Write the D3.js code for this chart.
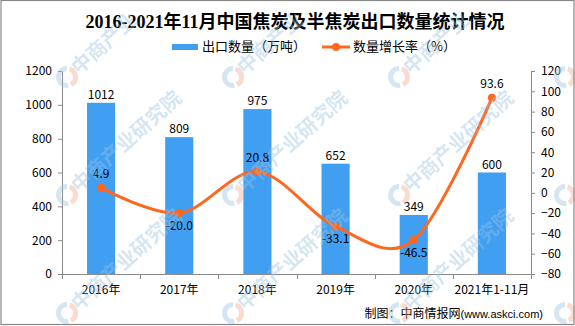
<!DOCTYPE html>
<html>
<head>
<meta charset="utf-8">
<script src="https://cdn.jsdelivr.net/npm/d3@7/dist/d3.min.js"></script>
<style>
  html, body { margin: 0; padding: 0; background: #fff; }
  svg { display: block; }
</style>
</head>
<body>
<svg id="chart" width="575" height="326"></svg>
<script>
// ---- data ----
const categories = ["2016年", "2017年", "2018年", "2019年", "2020年", "2021年1-11月"];
const exportVolume = [1012, 809, 975, 652, 349, 600];        // 出口数量（万吨）
const growthRate = [4.9, -20.0, 20.8, -33.1, -46.5, 93.6];  // 数量增长率（%）
const leftTicks = [0, 200, 400, 600, 800, 1000, 1200];
const rightTicks = [-80, -60, -40, -20, 0, 20, 40, 60, 80, 100, 120];
const titleText = "2016-2021年11月中国焦炭及半焦炭出口数量统计情况";
const legendBar = "出口数量（万吨）";
const legendLine = "数量增长率（%）";
const sourceText = "制图：中商情报网";
const sourceUrl = "(www.askci.com)";
const watermarkText = "中商产业研究院";

// ---- style ----
const barColor = "#419FF2";
const lineColor = "#FF661E";
const axisColor = "#8a8a8a";
const cjk = "'Noto Sans CJK SC', 'DejaVu Sans', sans-serif";

const svg = d3.select("#chart");
const W = 575, H = 326;
const plot = { left: 62, right: 531, top: 71, bottom: 274 };

const x = d3.scaleBand().domain(categories).range([plot.left, plot.right])
  .paddingInner(0.64).paddingOuter(0.32);
const xb = d3.scaleBand().domain(categories).range([plot.left, plot.right]);
const yL = d3.scaleLinear().domain([0, 1200]).range([plot.bottom, plot.top]);
const yR = d3.scaleLinear().domain([-80, 120]).range([plot.bottom, plot.top]);

svg.append("rect").attr("x", 0).attr("y", 0).attr("width", W).attr("height", H).attr("fill", "#fff");

// ---- bars ----
svg.append("g").selectAll("rect").data(exportVolume).join("rect")
  .attr("x", (d, i) => x(categories[i]))
  .attr("y", d => yL(d))
  .attr("width", x.bandwidth())
  .attr("height", d => yL(0) - yL(d))
  .attr("fill", barColor);

// ---- axes ----
const gL = svg.append("g").attr("transform", `translate(${plot.left},0)`)
  .call(d3.axisLeft(yL).tickValues(leftTicks).tickSize(4).tickSizeOuter(0).tickPadding(6)
    .tickFormat(d3.format("d")));
const gR = svg.append("g").attr("transform", `translate(${plot.right},0)`)
  .call(d3.axisRight(yR).tickValues(rightTicks).tickSize(4).tickSizeOuter(0).tickPadding(6)
    .tickFormat(d => d < 0 ? "−" + Math.abs(d) : String(d)));
[gL, gR].forEach(g => {
  g.select(".domain").attr("stroke", axisColor);
  g.selectAll(".tick line").attr("stroke", axisColor);
  g.selectAll(".tick text").attr("fill", "#000").style("font-family", cjk).style("font-size", "12px");
});

// x axis
const gX = svg.append("g");
gX.append("line").attr("x1", plot.left).attr("x2", plot.right)
  .attr("y1", plot.bottom + 0.5).attr("y2", plot.bottom + 0.5).attr("stroke", axisColor);
const bounds = categories.map(c => xb(c)).concat([plot.right]);
gX.selectAll("line.t").data(bounds).join("line").attr("class", "t")
  .attr("x1", d => Math.round(d) + 0.5).attr("x2", d => Math.round(d) + 0.5)
  .attr("y1", plot.bottom).attr("y2", plot.bottom + 5).attr("stroke", axisColor);
gX.selectAll("text").data(categories).join("text")
  .attr("x", d => xb(d) + xb.bandwidth() / 2)
  .attr("y", 294)
  .attr("text-anchor", "middle")
  .style("font-family", cjk).style("font-size", "12px").attr("fill", "#000")
  .text(d => d);

// ---- bar labels ----
svg.append("g").selectAll("text").data(exportVolume).join("text")
  .attr("x", (d, i) => x(categories[i]) + x.bandwidth() / 2)
  .attr("y", d => yL(d) - 4)
  .attr("text-anchor", "middle")
  .style("font-family", cjk).style("font-size", "12px").attr("fill", "#000")
  .text(d => d);

// ---- line ----
const cx = i => x(categories[i]) + x.bandwidth() / 2;
const line = d3.line().x((d, i) => cx(i)).y(d => yR(d)).curve(d3.curveCardinal.tension(0));
svg.append("path").datum(growthRate).attr("d", line)
  .attr("fill", "none").attr("stroke", lineColor).attr("stroke-width", 3);
svg.append("g").selectAll("circle").data(growthRate).join("circle")
  .attr("cx", (d, i) => cx(i)).attr("cy", d => yR(d)).attr("r", 4).attr("fill", lineColor);

// line labels: above for peaks / last point, below otherwise
svg.append("g").selectAll("text").data(growthRate).join("text")
  .attr("x", (d, i) => cx(i))
  .attr("y", (d, i) => {
    const prev = i > 0 ? growthRate[i - 1] : -Infinity;
    const next = i < growthRate.length - 1 ? growthRate[i + 1] : -Infinity;
    const above = d > prev && d > next;
    return above ? yR(d) - 10 : yR(d) + 17;
  })
  .attr("text-anchor", "middle")
  .style("font-family", cjk).style("font-size", "12px").attr("fill", "#000")
  .text(d => d.toFixed(1));

// ---- title ----
svg.append("text").attr("x", 295).attr("y", 28).attr("text-anchor", "middle")
  .style("font-family", "'Liberation Serif', 'Noto Sans CJK SC', serif")
  .style("font-size", "18px").style("font-weight", "bold").attr("fill", "#000")
  .text(titleText);

// ---- legend ----
const lg = svg.append("g");
lg.append("rect").attr("x", 172).attr("y", 44).attr("width", 26).attr("height", 6).attr("fill", barColor);
lg.append("text").attr("x", 202).attr("y", 51).style("font-family", cjk).style("font-size", "13px")
  .attr("fill", "#000").text(legendBar);
lg.append("line").attr("x1", 322).attr("x2", 350).attr("y1", 47).attr("y2", 47)
  .attr("stroke", lineColor).attr("stroke-width", 3);
lg.append("circle").attr("cx", 336).attr("cy", 47).attr("r", 4).attr("fill", lineColor);
lg.append("text").attr("x", 353).attr("y", 51).style("font-family", cjk).style("font-size", "13px")
  .attr("fill", "#000").text(legendLine);

// ---- source ----
const src = svg.append("text").attr("x", 543).attr("y", 318).attr("text-anchor", "end")
  .style("font-family", cjk).style("font-size", "12px").attr("fill", "#000");
src.append("tspan").text(sourceText);
src.append("tspan").style("font-family", "'Liberation Sans', Arial, sans-serif").style("font-size", "11px").text(sourceUrl);

// ---- watermark (only characters that fall fully inside the picture) ----
const wm = svg.append("g").attr("opacity", 0.42).style("pointer-events", "none");
const ang = -42 * Math.PI / 180, fs = 20;
const chars = Array.from(watermarkText);
for (let c = 0; c < 5; c++) {
  for (let r = 0; r < 3; r++) {
    const px = -99 + 166 * c, py = 77 + 118 * r;
    const g = wm.append("g").attr("transform", `translate(${px},${py})`);
    const arc = d3.arc().innerRadius(6).outerRadius(11);
    g.append("path").attr("d", arc({ startAngle: Math.PI * 0.95, endAngle: Math.PI * 2.0 })).attr("fill", "#9cc3e0");
    g.append("path").attr("d", arc({ startAngle: Math.PI * 0.1, endAngle: Math.PI * 0.85 })).attr("fill", "#f3a98c");
    chars.forEach((ch, k) => {
      // character centre along the rotated baseline
      const along = 10 + fs * (k + 0.5);
      const ccx = px + along * Math.cos(ang) + 7 * Math.sin(-ang) * 0 ;
      const ccy = py + along * Math.sin(ang);
      const half = fs * 0.72;
      if (ccx - half < 0 || ccx + half > W || ccy - half < 0 || ccy + half > H) return;
      wm.append("text")
        .attr("transform", `translate(${ccx},${ccy}) rotate(-42)`)
        .attr("text-anchor", "middle").attr("dy", "0.35em")
        .style("font-family", cjk).style("font-size", fs + "px").style("font-weight", "bold")
        .attr("fill", "#9cc3e0").text(ch);
    });
  }
}

// ---- frame ----
svg.append("rect").attr("x", 1).attr("y", 0.5).attr("width", 573).attr("height", 324)
  .attr("fill", "none").attr("stroke", "#888").attr("stroke-width", 1.2);
</script>
</body>
</html>
